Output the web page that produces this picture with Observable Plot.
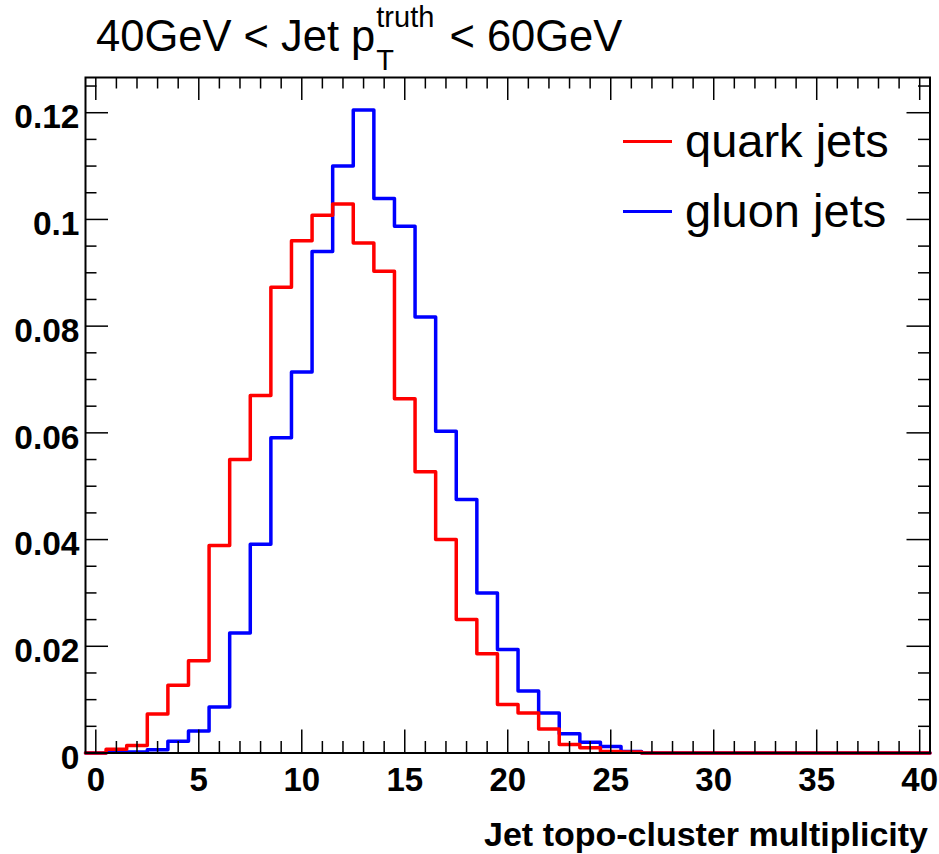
<!DOCTYPE html>
<html><head><meta charset="utf-8">
<script src="https://cdn.jsdelivr.net/npm/d3@7"></script>
<script src="https://cdn.jsdelivr.net/npm/@observablehq/plot@0.6"></script>
<style>
html,body{margin:0;padding:0;background:#fff;}
#wrap{position:relative;width:939px;height:854px;overflow:hidden;font-family:"Liberation Sans",Arial,Helvetica,sans-serif;color:#000;}
#chart{position:absolute;left:0;top:0;}
#title{position:absolute;left:96px;top:15px;font-size:43.5px;line-height:1;white-space:nowrap;}
.ss{display:inline-block;position:relative;width:62px;height:1px;}
.ss span{position:absolute;left:1px;font-size:29px;line-height:1;}
.leg{position:absolute;left:685px;font-size:47px;line-height:1;white-space:nowrap;}
.sw{position:absolute;left:623px;width:49px;height:3px;}
#xlabel{position:absolute;right:11px;top:817px;font-size:34px;font-weight:bold;line-height:1;white-space:nowrap;}
</style></head><body>
<div id="wrap">
  <div id="chart"></div>
  <div id="title">40GeV &lt; Jet p<span class="ss"><span style="bottom:19px">truth</span><span style="bottom:-23.5px">T</span></span> &lt; 60GeV</div>
  <div class="sw" style="top:139.5px;background:#ff0000"></div>
  <div class="leg" style="top:117px">quark jets</div>
  <div class="sw" style="top:209.5px;background:#0000ff"></div>
  <div class="leg" style="top:187px">gluon jets</div>
  <div id="xlabel">Jet topo-cluster multiplicity</div>
</div>
<script>
// bin centres (bin width 1)
const binCenters = [0,1,2,3,4,5,6,7,8,9,10,11,12,13,14,15,16,17,18,19,20,21,22,23,24,25,26,27,28,29,30,31,32,33,34,35,36,37,38,39,40];
const quark = [0, 0.0007, 0.0014, 0.0073, 0.0127, 0.0173, 0.0389, 0.0550, 0.0670, 0.0873,
               0.0960, 0.1008, 0.1029, 0.0956, 0.0903, 0.0664, 0.0527, 0.0400, 0.0250, 0.0186,
               0.0091, 0.0075, 0.0045, 0.0016, 0.0010, 0.0003, 0.0002, 0, 0, 0,
               0, 0, 0, 0, 0, 0, 0, 0, 0, 0, 0];
const gluon = [0, 0.0002, 0.0002, 0.0006, 0.0022, 0.0041, 0.0086, 0.0225, 0.0391, 0.0591,
               0.0714, 0.0940, 0.1100, 0.1205, 0.1039, 0.0987, 0.0817, 0.0603, 0.0475, 0.0300,
               0.0194, 0.0116, 0.0075, 0.0036, 0.0020, 0.0012, 0.0003, 0, 0, 0,
               0, 0, 0, 0, 0, 0, 0, 0, 0, 0, 0];
const xMajorTicks = [0,5,10,15,20,25,30,35,40];
const xTickLabels = ["0","5","10","15","20","25","30","35","40"];
const xMinorTicks = [1,2,3,4,6,7,8,9,11,12,13,14,16,17,18,19,21,22,23,24,26,27,28,29,31,32,33,34,36,37,38,39];
const yMajorTicks = [0,0.02,0.04,0.06,0.08,0.1,0.12];
const yTickLabels = ["0","0.02","0.04","0.06","0.08","0.1","0.12"];
const yMinorTicks = [0.005,0.01,0.015,0.025,0.03,0.035,0.045,0.05,0.055,0.065,0.07,0.075,0.085,0.09,0.095,0.105,0.11,0.115,0.125];
const xDomain = [-0.5, 40.5];
const yDomain = [0, 0.1266];

// histogram outline points: low edge of every bin plus the last high edge
function outline(vals) {
  const pts = binCenters.map((c, i) => ({x: c - 0.5, y: vals[i]}));
  pts.push({x: binCenters[binCenters.length - 1] + 0.5, y: vals[vals.length - 1]});
  return pts;
}

const W = 939, H = 854, mL = 85, mR = 9.5, mT = 77, mB = 101.5;
const fW = W - mL - mR, fH = H - mT - mB;
const majL = 23, minL = 11.5;
const tickStyle = {stroke: "#000", strokeWidth: 1.5};

const plot = Plot.plot({
  width: W, height: H,
  marginLeft: mL, marginRight: mR, marginTop: mT, marginBottom: mB,
  x: {domain: xDomain, axis: null},
  y: {domain: yDomain, axis: null},
  style: {fontFamily: '"Liberation Sans", Arial, Helvetica, sans-serif', background: "#fff", color: "#000"},
  marks: [
    Plot.line(outline(gluon), {x: "x", y: "y", curve: "step-after", stroke: "#0000ff", strokeWidth: 3.5}),
    Plot.line(outline(quark), {x: "x", y: "y", curve: "step-after", stroke: "#ff0000", strokeWidth: 3.5}),
    // bottom & top ticks
    Plot.tickX(xMajorTicks, {x: d => d, insetTop: fH - majL, ...tickStyle}),
    Plot.tickX(xMinorTicks, {x: d => d, insetTop: fH - minL, ...tickStyle}),
    Plot.tickX(xMajorTicks, {x: d => d, insetBottom: fH - majL, ...tickStyle}),
    Plot.tickX(xMinorTicks, {x: d => d, insetBottom: fH - minL, ...tickStyle}),
    // left & right ticks
    Plot.tickY(yMajorTicks, {y: d => d, insetRight: fW - majL, ...tickStyle}),
    Plot.tickY(yMinorTicks, {y: d => d, insetRight: fW - minL, ...tickStyle}),
    Plot.tickY(yMajorTicks, {y: d => d, insetLeft: fW - majL, ...tickStyle}),
    Plot.tickY(yMinorTicks, {y: d => d, insetLeft: fW - minL, ...tickStyle}),
    Plot.frame({stroke: "#000", strokeWidth: 2}),
    Plot.axisX(xMajorTicks, {tickSize: 0, tickPadding: 14.5, fontSize: 33, fontWeight: "bold", label: null,
      tickFormat: d => xTickLabels[xMajorTicks.indexOf(d)]}),
    Plot.axisY(yMajorTicks, {tickSize: 0, tickPadding: 6, fontSize: 33.5, fontWeight: "bold", label: null, dy: 5,
      tickFormat: d => yTickLabels[yMajorTicks.indexOf(d)]})
  ]
});
document.getElementById("chart").appendChild(plot);
</script>
</body></html>
